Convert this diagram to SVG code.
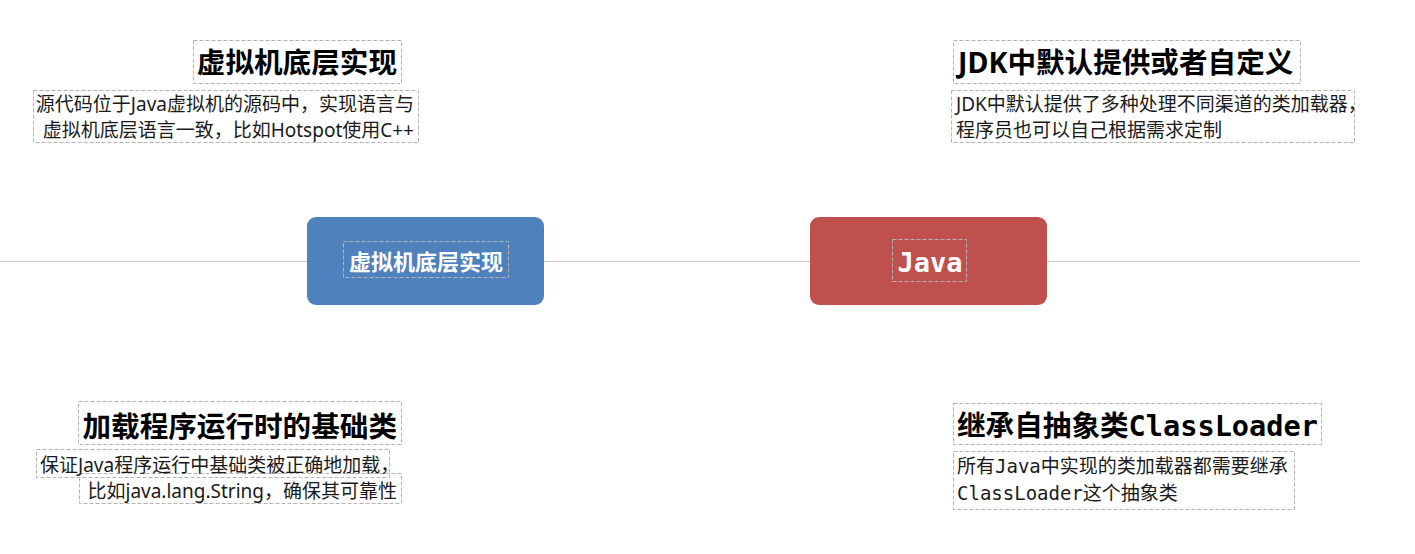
<svg xmlns="http://www.w3.org/2000/svg" width="1415" height="554" viewBox="0 0 1415 554">
<style>
.dash{fill:none;stroke:#b4b4b4;stroke-width:1;stroke-dasharray:4,2}
.title{font-family:"Noto Sans","Noto Sans CJK SC",sans-serif;font-weight:bold;font-size:28.6px;fill:#000}
.desc{font-family:"Noto Sans","Noto Sans CJK SC",sans-serif;font-size:19px;fill:#1a1a1a}
.mono{font-family:"DejaVu Sans Mono","Liberation Mono",monospace}
.conn{stroke:#c8c8c8;stroke-width:1;fill:none}
</style>
<rect width="1415" height="554" fill="#fff"/>
<g id="connectors">
<line class="conn" x1="0" y1="261.5" x2="1360" y2="261.5"/>
</g>
<g id="node-center-left">
<rect x="307" y="217" width="237" height="88" rx="9" fill="#4f81bd"/>
<rect class="dash" x="343.5" y="241.5" width="165" height="36"/>
<text x="426" y="270" text-anchor="middle" font-family="Noto Sans CJK SC,sans-serif" font-weight="bold" font-size="22" fill="#fff">虚拟机底层实现</text>
</g>
<g id="node-center-right">
<rect x="810" y="217" width="237" height="88" rx="9" fill="#c0504d"/>
<rect class="dash" x="892.5" y="239.5" width="74" height="42"/>
<text x="930" y="272" text-anchor="middle" class="mono" font-weight="bold" font-size="27" fill="#fff">Java</text>
</g>
<g id="node-top-left">
<rect class="dash" x="193.5" y="40.5" width="208" height="43"/>
<text class="title" x="397" y="73" text-anchor="end">虚拟机底层实现</text>
<rect class="dash" x="33.5" y="90.5" width="385" height="52"/>
<text class="desc" x="414" y="111" text-anchor="end">源代码位于Java虚拟机的源码中，实现语言与</text>
<text class="desc" x="414" y="137" text-anchor="end">虚拟机底层语言一致，比如Hotspot使用C++</text>
</g>
<g id="node-top-right">
<rect class="dash" x="953.5" y="40.5" width="347" height="43"/>
<text class="title" x="958" y="73">JDK中默认提供或者自定义</text>
<rect class="dash" x="951.5" y="90.5" width="403" height="52"/>
<text class="desc" x="956" y="111">JDK中默认提供了多种处理不同渠道的类加载器，</text>
<text class="desc" x="956" y="137">程序员也可以自己根据需求定制</text>
</g>
<g id="node-bottom-left">
<rect class="dash" x="78.5" y="401.5" width="323" height="43"/>
<text class="title" x="397" y="437" text-anchor="end">加载程序运行时的基础类</text>
<rect class="dash" x="36.5" y="449.5" width="353" height="28"/>
<rect class="dash" x="79.5" y="473.5" width="322" height="30"/>
<text class="desc" x="40" y="472">保证Java程序运行中基础类被正确地加载，</text>
<text class="desc" x="397" y="498" text-anchor="end">比如java.lang.String，确保其可靠性</text>
</g>
<g id="node-bottom-right">
<rect class="dash" x="953.5" y="403.5" width="368" height="41"/>
<text class="title" x="957" y="436">继承自抽象类<tspan class="mono">ClassLoader</tspan></text>
<rect class="dash" x="953.5" y="451.5" width="341" height="58"/>
<text class="desc" x="957" y="473">所有<tspan class="mono">Java</tspan>中实现的类加载器都需要继承</text>
<text class="desc" x="957" y="500"><tspan class="mono">ClassLoader</tspan>这个抽象类</text>
</g>
</svg>
